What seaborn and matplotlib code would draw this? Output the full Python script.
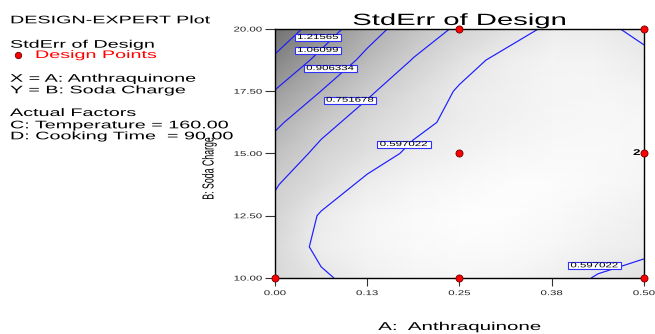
import numpy as np
import pandas as pd
import matplotlib
matplotlib.use("Agg")
import matplotlib.pyplot as plt
import seaborn as sns
from matplotlib.colors import LinearSegmentedColormap
from matplotlib.patheffects import AbstractPathEffect
from matplotlib.transforms import Affine2D
from matplotlib.path import Path

# ---------------- data ----------------
a_grid = [0.0, 0.0625, 0.125, 0.1875, 0.25, 0.3125, 0.375, 0.4375, 0.5]
b_grid = [10.0, 11.25, 12.5, 13.75, 15.0, 16.25, 17.5, 18.75, 20.0]
stderr_b10_00 = [0.700, 0.615, 0.550, 0.520, 0.510, 0.520, 0.550, 0.605, 0.640]
stderr_b11_25 = [0.690, 0.565, 0.520, 0.495, 0.485, 0.490, 0.510, 0.545, 0.570]
stderr_b12_50 = [0.720, 0.585, 0.520, 0.490, 0.475, 0.475, 0.490, 0.520, 0.555]
stderr_b13_75 = [0.760, 0.665, 0.570, 0.525, 0.495, 0.480, 0.480, 0.495, 0.520]
stderr_b15_00 = [0.835, 0.720, 0.650, 0.575, 0.540, 0.510, 0.495, 0.495, 0.510]
stderr_b16_25 = [0.935, 0.790, 0.700, 0.625, 0.570, 0.540, 0.515, 0.505, 0.515]
stderr_b17_50 = [1.055, 0.905, 0.770, 0.675, 0.585, 0.550, 0.520, 0.515, 0.535]
stderr_b18_75 = [1.190, 1.020, 0.870, 0.745, 0.640, 0.565, 0.530, 0.535, 0.575]
stderr_b20_00 = [1.320, 1.140, 0.965, 0.830, 0.730, 0.650, 0.575, 0.575, 0.620]

contour_levels = [0.597022, 0.751678, 0.906334, 1.06099, 1.21565]
label_levels = [1.21565, 1.06099, 0.906334, 0.751678, 0.597022, 0.597022]
label_a = [0.0583, 0.0583, 0.0750, 0.1016, 0.1746, 0.4330]
label_b = [19.66, 19.14, 18.41, 17.14, 15.36, 10.49]

design_a = [0.25, 0.50, 0.25, 0.50, 0.00, 0.25, 0.50]
design_b = [20.0, 20.0, 15.0, 15.0, 10.0, 10.0, 10.0]
design_count = [1, 1, 1, 2, 1, 1, 1]

x_ticks = [0.0, 0.125, 0.25, 0.375, 0.5]
x_tick_labels = ["0.00", "0.13", "0.25", "0.38", "0.50"]
y_ticks = [10.0, 12.5, 15.0, 17.5, 20.0]
y_tick_labels = ["10.00", "12.50", "15.00", "17.50", "20.00"]

title = "StdErr of Design"
x_label = "A:  Anthraquinone"
y_label = "B: Soda Charge"
info_lines = ["DESIGN-EXPERT Plot", "StdErr of Design", "X = A: Anthraquinone",
              "Y = B: Soda Charge", "Actual Factors", "C: Temperature = 160.00",
              "D: Cooking Time  = 90.00"]
info_baselines_px = [23.3, 47.7, 81.7, 93.3, 116.0, 128.3, 139.3]
legend_label = "Design Points"

# ---------------- helpers ----------------
class Stretch(AbstractPathEffect):
    """Draw text glyphs horizontally stretched (text stays real text)."""
    def __init__(self, sx, anchor="left"):
        super().__init__()
        self.sx = sx
        self.anchor = anchor

    def draw_path(self, renderer, gc, tpath, affine, rgbFace=None):
        if len(tpath.vertices) == 0:
            return
        ext = tpath.get_extents()
        if self.anchor == "center":
            cx = 0.5 * (ext.x0 + ext.x1)
        elif self.anchor == "right":
            cx = ext.x1
        else:
            cx = 0.0
        t = Affine2D().translate(-cx, 0).scale(self.sx, 1.0).translate(cx, 0) + affine
        renderer.draw_path(gc, tpath, t, rgbFace)


def stretched_box(sx, padx, pady):
    def box(x0, y0, width, height, mutation_size):
        cx = x0 + width / 2.0
        hw = width * sx / 2.0 + padx
        xa, xb = cx - hw, cx + hw
        ya, yb = y0 - pady, y0 + height + pady
        return Path([(xa, ya), (xb, ya), (xb, yb), (xa, yb), (xa, ya)], closed=True)
    return box


W, H = 655, 334
sns.set_theme(style="white")
plt.rcParams["font.family"] = ["Liberation Sans", "DejaVu Sans"]

fig = plt.figure(figsize=(W / 100, H / 100), dpi=100)
fig.patch.set_facecolor("white")
ax = fig.add_axes([275 / W, 56 / H, 369 / W, 249 / H])

A, B = np.meshgrid(a_grid, b_grid)
Z = np.array([stderr_b10_00, stderr_b11_25, stderr_b12_50, stderr_b13_75, stderr_b15_00,
              stderr_b16_25, stderr_b17_50, stderr_b18_75, stderr_b20_00])

cmap = LinearSegmentedColormap.from_list("gry", ["#ffffff", "#6e6e6e"])
ax.pcolormesh(A, B, Z, shading="gouraud", cmap=cmap, vmin=0.46, vmax=1.34, zorder=0)
ax.contour(A, B, Z, levels=contour_levels, colors="#1c1cff", linewidths=0.85, zorder=2)

df = pd.DataFrame({"A": design_a, "B": design_b, "n": design_count})
sns.scatterplot(data=df, x="A", y="B", ax=ax, s=26, color="#ff0000",
                edgecolor="#6a0000", linewidth=0.6, zorder=5, clip_on=False,
                label=legend_label)
ax.collections[-1].set_clip_on(False)

for _, r in df.iterrows():
    if r["n"] > 1:
        ax.annotate(str(int(r["n"])), (r["A"], r["B"]), xytext=(-2.6, 0),
                    textcoords="offset points", ha="right", va="center",
                    fontsize=6, fontweight="bold", color="black", zorder=6,
                    annotation_clip=False,
                    path_effects=[Stretch(1.6, "right")])

for lev, xa, yb in zip(label_levels, label_a, label_b):
    ax.text(xa, yb, f"{lev:.6g}", fontsize=5, ha="center", va="center", color="black",
            bbox=dict(boxstyle=stretched_box(1.65, 2.4, 0.2), fc="white",
                      ec="#3030ff", lw=0.8),
            path_effects=[Stretch(1.65, "center")], zorder=7)

ax.set_xlim(0, 0.5)
ax.set_ylim(10, 20)
ax.set_xticks(x_ticks)
ax.set_xticklabels(x_tick_labels)
ax.set_yticks(y_ticks)
ax.set_yticklabels(y_tick_labels)
ax.tick_params(axis="x", direction="out", length=5.5, width=0.8, color="#333333",
               labelsize=5, labelcolor="#222222", pad=3.2, bottom=True)
ax.tick_params(axis="y", direction="out", length=7, width=0.8, color="#333333",
               labelsize=5, labelcolor="#222222", pad=2.2, left=True)
for s in ax.spines.values():
    s.set_visible(True)
    s.set_color("black")
    s.set_linewidth(1.0)

ax.set_title(title, fontsize=11.7, pad=2.9, color="black",
             path_effects=[Stretch(1.8, "center")])

ax.set_xlabel(x_label, fontsize=8.2, color="black", path_effects=[Stretch(1.8, "center")])
ax.xaxis.label.set_va("baseline")
ax.xaxis.set_label_coords(0.5, (4 - 56) / 249)

ax.set_ylabel(y_label, fontsize=11.5, color="black", path_effects=[Stretch(0.55, "center")])
ax.yaxis.label.set_va("center")
ax.yaxis.set_label_coords((209 - 275) / 369, (278 - 168.5) / 249)

# left information block
for line, base in zip(info_lines, info_baselines_px):
    fig.text(10 / W, 1 - base / H, line, fontsize=7.9, color="black", ha="left",
             va="baseline", path_effects=[Stretch(1.8, "left")])

leg = ax.legend(loc="center left", bbox_to_anchor=(12.8 / W, 1 - 55.0 / H),
                bbox_transform=fig.transFigure, frameon=False, borderpad=0,
                borderaxespad=0, handlelength=1.0, handletextpad=1.02,
                fontsize=7.9, markerscale=0.9)
for t in leg.get_texts():
    t.set_color("#ff0000")
    t.set_path_effects([Stretch(1.8, "left")])

fig.canvas.draw()
for tk in ax.xaxis.get_major_ticks():
    tk.label1.set_path_effects([Stretch(1.65, "center")])
for tk in ax.yaxis.get_major_ticks():
    tk.label1.set_path_effects([Stretch(1.65, "right")])

fig.savefig("out.png", dpi=100, facecolor="white")
